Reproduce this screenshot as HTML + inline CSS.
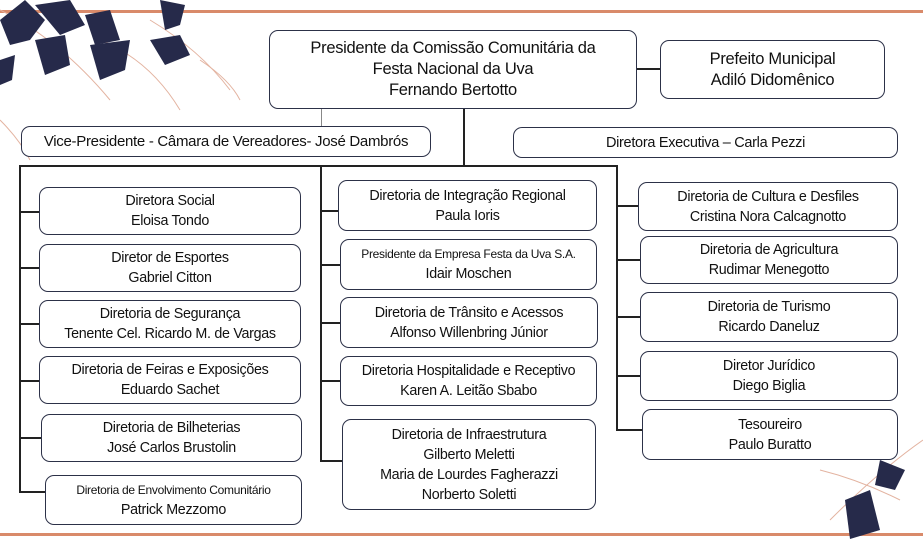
<!DOCTYPE html>
<html><head><meta charset="utf-8"><style>
body{margin:0;width:923px;height:539px;background:#fff;position:relative;overflow:hidden;font-family:"Liberation Sans",sans-serif;color:#111}
.b{position:absolute;box-sizing:border-box;border:1.5px solid #2c3148;border-radius:9px;background:#fff;display:flex;flex-direction:column;justify-content:center;align-items:center;text-align:center;font-size:14.3px;line-height:20px;white-space:nowrap;letter-spacing:-0.3px}
.l{position:absolute;background:#222}
.s{font-size:12px;line-height:19px}
</style></head><body>
<svg width="923" height="539" style="position:absolute;left:0;top:0">
<rect x="0" y="10" width="923" height="3" fill="#d98a6a"/>
<rect x="0" y="533" width="923" height="3" fill="#d98a6a"/>
<g stroke="#e3b3a0" stroke-width="1" fill="none">
<path d="M0,10 Q60,40 110,100"/><path d="M100,40 Q150,60 180,110"/><path d="M150,20 Q200,50 230,90"/>
<path d="M0,120 Q20,140 30,160"/><path d="M200,60 Q230,80 240,100"/>
<path d="M830,520 Q880,470 923,440"/><path d="M820,470 Q860,480 900,500"/>
</g>
<g fill="#262a4a">
<polygon points="0,20 25,0 45,20 30,40 10,45"/>
<polygon points="35,5 70,0 85,25 60,35"/>
<polygon points="85,15 110,10 120,40 95,45"/>
<polygon points="90,45 130,40 125,70 100,80"/>
<polygon points="35,40 65,35 70,65 45,75"/>
<polygon points="160,0 185,5 180,25 165,30"/>
<polygon points="150,40 180,35 190,55 165,65"/>
<polygon points="0,60 15,55 12,80 0,85"/>
<polygon points="845,500 870,490 880,530 850,539"/>
<polygon points="880,460 905,470 895,490 875,485"/>
</g>
</svg>
<div class="l" style="left:636px;top:68px;width:24px;height:1.5px"></div>
<div class="l" style="left:321px;top:108px;width:1px;height:18px;background:#888"></div>
<div class="l" style="left:463px;top:108px;width:1.5px;height:57px"></div>
<div class="l" style="left:19px;top:165px;width:598px;height:1.5px"></div>
<div class="l" style="left:19px;top:165px;width:1.5px;height:327px"></div>
<div class="l" style="left:320px;top:165px;width:1.5px;height:296px"></div>
<div class="l" style="left:616px;top:165px;width:1.5px;height:265px"></div>
<div class="l" style="left:19px;top:211px;width:20px;height:1.5px"></div>
<div class="l" style="left:19px;top:267px;width:20px;height:1.5px"></div>
<div class="l" style="left:19px;top:323px;width:20px;height:1.5px"></div>
<div class="l" style="left:19px;top:380px;width:20px;height:1.5px"></div>
<div class="l" style="left:19px;top:437px;width:22px;height:1.5px"></div>
<div class="l" style="left:19px;top:491px;width:26px;height:1.5px"></div>
<div class="l" style="left:320px;top:210px;width:18px;height:1.5px"></div>
<div class="l" style="left:320px;top:264px;width:20px;height:1.5px"></div>
<div class="l" style="left:320px;top:322px;width:20px;height:1.5px"></div>
<div class="l" style="left:320px;top:380px;width:20px;height:1.5px"></div>
<div class="l" style="left:320px;top:460px;width:22px;height:1.5px"></div>
<div class="l" style="left:616px;top:205px;width:22px;height:1.5px"></div>
<div class="l" style="left:616px;top:259px;width:24px;height:1.5px"></div>
<div class="l" style="left:616px;top:316px;width:24px;height:1.5px"></div>
<div class="l" style="left:616px;top:375px;width:24px;height:1.5px"></div>
<div class="l" style="left:616px;top:429px;width:26px;height:1.5px"></div>

<div class="b" style="left:269px;top:30px;width:368px;height:79px;font-size:16.5px;line-height:21px">Presidente da Comissão Comunitária da<br>Festa Nacional da Uva<br>Fernando Bertotto</div>
<div class="b" style="left:660px;top:40px;width:225px;height:59px;font-size:16.5px;line-height:21px">Prefeito Municipal<br>Adiló Didomênico</div>
<div class="b" style="left:21px;top:126px;width:410px;height:31px;font-size:15px">Vice-Presidente - Câmara de Vereadores- José Dambrós</div>
<div class="b" style="left:513px;top:127px;width:385px;height:31px;font-size:14.5px">Diretora Executiva – Carla Pezzi</div>

<div class="b" style="left:39px;top:187px;width:262px;height:48px">Diretora Social<br>Eloisa Tondo</div>
<div class="b" style="left:39px;top:244px;width:262px;height:48px">Diretor de Esportes<br>Gabriel Citton</div>
<div class="b" style="left:39px;top:300px;width:262px;height:48px">Diretoria de Segurança<br>Tenente Cel. Ricardo M. de Vargas</div>
<div class="b" style="left:39px;top:356px;width:262px;height:48px">Diretoria de Feiras e Exposições<br>Eduardo Sachet</div>
<div class="b" style="left:41px;top:414px;width:261px;height:48px">Diretoria de Bilheterias<br>José Carlos Brustolin</div>
<div class="b" style="left:45px;top:475px;width:257px;height:50px"><span class="s">Diretoria de Envolvimento Comunitário</span>Patrick Mezzomo</div>

<div class="b" style="left:338px;top:180px;width:259px;height:51px">Diretoria de Integração Regional<br>Paula Ioris</div>
<div class="b" style="left:340px;top:239px;width:257px;height:51px"><span class="s">Presidente da Empresa Festa da Uva S.A.</span>Idair Moschen</div>
<div class="b" style="left:340px;top:297px;width:258px;height:51px">Diretoria de Trânsito e Acessos<br>Alfonso Willenbring Júnior</div>
<div class="b" style="left:340px;top:356px;width:257px;height:50px">Diretoria Hospitalidade e Receptivo<br>Karen A. Leitão Sbabo</div>
<div class="b" style="left:342px;top:419px;width:254px;height:91px">Diretoria de Infraestrutura<br>Gilberto Meletti<br>Maria de Lourdes Fagherazzi<br>Norberto Soletti</div>

<div class="b" style="left:638px;top:182px;width:260px;height:49px">Diretoria de Cultura e Desfiles<br>Cristina Nora Calcagnotto</div>
<div class="b" style="left:640px;top:236px;width:258px;height:48px">Diretoria de Agricultura<br>Rudimar Menegotto</div>
<div class="b" style="left:640px;top:292px;width:258px;height:50px">Diretoria de Turismo<br>Ricardo Daneluz</div>
<div class="b" style="left:640px;top:351px;width:258px;height:50px">Diretor Jurídico<br>Diego Biglia</div>
<div class="b" style="left:642px;top:409px;width:256px;height:51px">Tesoureiro<br>Paulo Buratto</div>
</body></html>
